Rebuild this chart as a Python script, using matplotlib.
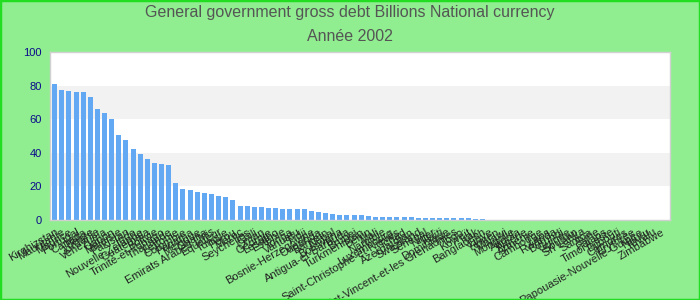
import matplotlib
matplotlib.use('Agg')
import matplotlib.pyplot as plt
from matplotlib.patches import Rectangle

plt.rcParams['font.family'] = ['Liberation Sans', 'DejaVu Sans']

# --- data ---
countries = [
    'Kirghizstan', 'Mauritanie', 'Maurice', 'Portugal', 'Canada', 'Belize',
    'Jordanie', 'Venezuela', 'Gabon', 'Malaisie', 'Pakistan', 'Inde',
    'Nouvelle-Zélande', 'Guatemala', 'Bolivie', 'Trinité-et-Tobago',
    'Thaïlande', 'Lettonie', 'Colombie', 'Panama', 'Mexique', 'Ghana',
    'Emirats Arabes Unis', 'Equateur', 'Tunisie', 'Pérou', 'Maroc',
    'Seychelles', 'Chili', 'Oman', 'Géorgie', 'Lesotho', 'Estonie', 'Tonga',
    'Vanuatu', 'Fidji', 'Bosnie-Herzégovine', 'Ouganda', 'Bahreïn', 'Népal',
    'Botswana', 'Antigua-et-Barbuda', 'Brunei', 'Turkménistan', 'Bénin',
    'Mali', 'Namibie', 'Luxembourg', 'Saint-Christophe-et-Niévès', 'Tchad',
    'Azerbaïdjan', 'Swaziland', 'Sénégal', 'Niger', 'Haïti', 'Dominique',
    'Saint-Vincent-et-les Grenadines', 'Togo', 'Koweït', 'Irak',
    'Bangladesh', 'Libye', 'Yémen', 'Malawi', 'Mongolie', 'Angola',
    'Algérie', 'Arménie', 'Cambodge', 'Laos', 'Rwanda', 'Burundi', 'Guinée',
    'Soudan', 'Sri Lanka', 'Samoa', 'Syrie', 'Palaos', 'Timor-Leste',
    'Djibouti', 'Comores', 'Erythrée', 'Papouasie-Nouvelle-Guinée', 'Nauru',
    'Tuvalu', 'Zimbabwe',
]

debt = [
    81.0, 77.4, 76.8, 76.2, 76.2, 73.2, 66.1, 63.7, 60.1, 50.6,
    47.6, 42.3, 39.3, 36.3, 33.9, 33.3, 32.7, 22.0, 18.5, 17.9,
    16.7, 16.1, 15.5, 14.3, 13.7, 11.9, 8.3, 8.3, 7.7, 7.7,
    7.1, 7.1, 6.5, 6.5, 6.5, 6.5, 5.4, 4.8, 4.2, 3.6,
    3.0, 3.0, 3.0, 3.0, 2.4, 1.8, 1.8, 1.8, 1.8, 1.8,
    1.8, 1.2, 1.2, 1.2, 1.2, 1.2, 1.2, 1.2, 1.2, 0.6,
    0.6, 0.2, 0.2, 0.1, 0.1, 0.1, 0.1, 0.0, 0.0, 0.0,
    0.0, 0.0, 0.0, 0.0, 0.0, 0.0, 0.0, 0.0, 0.0, 0.0,
    0.0, 0.0, 0.0, 0.0, 0.0, 0.0,
]

yticks = [0, 20, 40, 60, 80, 100]

fig = plt.figure(figsize=(7, 3), dpi=100, facecolor='#90ee90')
fig.patches.append(Rectangle((0, 0), 1, 1, transform=fig.transFigure,
                             fill=False, edgecolor='#22dd22', linewidth=2.5))

fig.text(0.5, 0.958, 'General government gross debt Billions National currency',
         ha='center', va='center', fontsize=11.5, color='#555555')
fig.text(0.5, 0.878, 'Année 2002', ha='center', va='center',
         fontsize=11.5, color='#555555')

ax = fig.add_axes([50 / 700, 80 / 300, 620 / 700, 168 / 300])
ax.set_facecolor('white')

# alternating horizontal bands
for i in range(len(yticks) - 1):
    if i % 2 == 1:
        ax.axhspan(yticks[i], yticks[i + 1], color='#f2f2f2', zorder=0, lw=0)

x = list(range(len(countries)))
ax.bar(x, debt, width=0.7, color='#62a8f2', zorder=2)

ax.set_ylim(0, 100)
ax.set_xlim(-0.65, len(countries) + 0.3)
ax.set_yticks(yticks)
ax.set_yticklabels([str(t) for t in yticks], color='#0a0a8a', fontsize=8)
ax.set_xticks(x)
ax.set_xticklabels(countries, rotation=30, ha='right', rotation_mode='anchor',
                   fontsize=8, color='#222222')
ax.tick_params(axis='both', length=0)
ax.tick_params(axis='x', pad=5)
ax.tick_params(axis='y', pad=6)

for s in ax.spines.values():
    s.set_color('#d0d0d0')
    s.set_linewidth(1)

fig.savefig('out.png', dpi=100, facecolor=fig.get_facecolor())
